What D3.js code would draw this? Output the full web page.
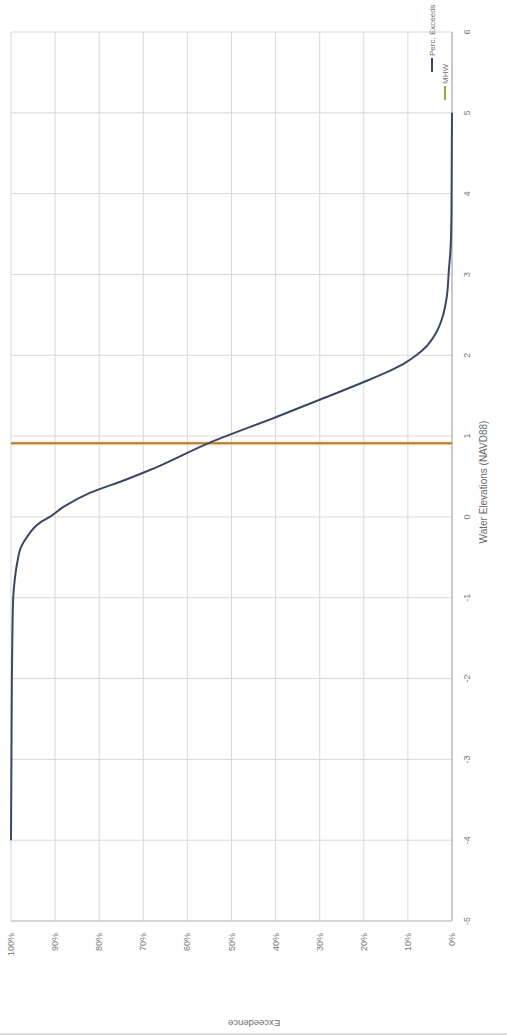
<!DOCTYPE html>
<html>
<head>
<meta charset="utf-8">
<script src="https://cdn.jsdelivr.net/npm/d3@7"></script>
<style>
  body { margin: 0; background: #fff; }
  svg { display: block; }
</style>
</head>
<body>
<div id="chart"></div>
<script>
// exceedance curve
const elevation = [-4, -3, -2, -1.5, -1, -0.8, -0.57, -0.37, -0.25, -0.07, 0, 0.12, 0.3, 0.46, 0.58, 0.92, 1.24, 1.45, 1.66, 1.8, 1.9, 2.0, 2.1, 2.28, 2.48, 2.72, 3.06, 3.3, 3.76, 4.5, 5]
const exceed = [100, 99.9, 99.8, 99.7, 99.5, 99.2, 98.6, 97.7, 96.4, 93.4, 91.2, 88.2, 82, 74, 68.5, 54.9, 39.7, 30, 20.4, 14.4, 10.8, 8.1, 6.0, 3.6, 2.1, 1.2, 0.7, 0.35, 0.12, 0.05, 0]
const mhw = 0.91
const elevTicks = [-5, -4, -3, -2, -1, 0, 1, 2, 3, 4, 5, 6]
const pctTicks = [0, 10, 20, 30, 40, 50, 60, 70, 80, 90, 100]
const seriesNames = ['Perc. Exceeds', 'MHW']

var W = 507, H = 1035
var font = 'Liberation Sans, Arial, sans-serif'

var svg = d3.select('#chart')
  .append('svg')
  .attr('width', W)
  .attr('height', H)

svg.append('rect').attr('width', W).attr('height', H).attr('fill', '#fff')

// the whole chart is drawn normally and then turned a quarter turn
var g = svg.append('g')
  .attr('transform', 'translate(0,' + H + ') rotate(-90)')

var x = d3.scaleLinear().domain([-5, 6]).range([114, 1003])
var y = d3.scaleLinear().domain([0, 100]).range([452, 11])

// grid
g.selectAll('.vgrid')
  .data(elevTicks)
  .enter()
  .append('line')
  .attr('x1', d => x(d)).attr('x2', d => x(d))
  .attr('y1', y(0)).attr('y2', y(100))
  .attr('stroke', '#dcd6d6')
  .attr('stroke-width', 1)

g.selectAll('.hgrid')
  .data(pctTicks)
  .enter()
  .append('line')
  .attr('x1', x(-5)).attr('x2', x(6))
  .attr('y1', d => y(d)).attr('y2', d => y(d))
  .attr('stroke', '#dcd6d6')
  .attr('stroke-width', 1)

// axis lines
g.append('line')
  .attr('x1', x(-5)).attr('x2', x(6))
  .attr('y1', y(0)).attr('y2', y(0))
  .attr('stroke', '#b4b0b0').attr('stroke-width', 1.2)
g.append('line')
  .attr('x1', x(-5)).attr('x2', x(-5))
  .attr('y1', y(0)).attr('y2', y(100))
  .attr('stroke', '#c4c0c0').attr('stroke-width', 1)

// tick labels
g.selectAll('.xlab')
  .data(elevTicks)
  .enter()
  .append('text')
  .attr('x', d => x(d))
  .attr('y', 470)
  .attr('text-anchor', 'middle')
  .style('font-family', font)
  .style('font-size', '9px')
  .style('fill', '#787878')
  .text(d => d)

g.selectAll('.ylab')
  .data(pctTicks)
  .enter()
  .append('text')
  .attr('x', 102)
  .attr('y', d => y(d) + 3)
  .attr('text-anchor', 'end')
  .style('font-family', font)
  .style('font-size', '9px')
  .style('fill', '#787878')
  .text(d => d + '%')

// axis titles
g.append('text')
  .attr('x', 553)
  .attr('y', 487)
  .attr('text-anchor', 'middle')
  .style('font-family', font)
  .style('font-size', '10px')
  .style('fill', '#6a6a6a')
  .text('Water Elevations (NAVD88)')

g.append('text')
  .attr('transform', 'translate(15,254) rotate(-90)')
  .attr('text-anchor', 'middle')
  .style('font-family', font)
  .style('font-size', '9.5px')
  .style('fill', '#6a6a6a')
  .text('Exceedence')

// MHW line
g.append('line')
  .attr('x1', x(mhw)).attr('x2', x(mhw))
  .attr('y1', y(0)).attr('y2', y(100))
  .attr('stroke', '#f3e2b4').attr('stroke-width', 5).attr('opacity', 0.6)
g.append('line')
  .attr('x1', x(mhw)).attr('x2', x(mhw))
  .attr('y1', y(0)).attr('y2', y(100))
  .attr('stroke', '#b3772f').attr('stroke-width', 2)

// exceedance curve
var pts = elevation.map((e, i) => [e, exceed[i]])
var line = d3.line()
  .x(d => x(d[0]))
  .y(d => y(d[1]))
  .curve(d3.curveMonotoneX)

g.append('path')
  .datum(pts)
  .attr('d', line)
  .attr('fill', 'none')
  .attr('stroke', '#3b4766')
  .attr('stroke-width', 2)

// legend
var legendColors = ['#3b4766', '#9aa53a']
var legendRows = [{ y: 432, x0: 963 }, { y: 445, x0: 935 }]
var legend = g.selectAll('.legend')
  .data(seriesNames)
  .enter()
  .append('g')

legend.append('line')
  .attr('x1', (d, i) => legendRows[i].x0)
  .attr('x2', (d, i) => legendRows[i].x0 + 14)
  .attr('y1', (d, i) => legendRows[i].y)
  .attr('y2', (d, i) => legendRows[i].y)
  .attr('stroke', (d, i) => legendColors[i])
  .attr('stroke-width', 2)

legend.append('text')
  .attr('x', (d, i) => legendRows[i].x0 + 16)
  .attr('y', (d, i) => legendRows[i].y + 3)
  .style('font-family', font)
  .style('font-size', '8px')
  .style('fill', '#707070')
  .text(d => d)

// bottom border of the chart box
g.append('line')
  .attr('x1', 1).attr('x2', 1)
  .attr('y1', 0).attr('y2', W)
  .attr('stroke', '#cfcfcf').attr('stroke-width', 1.5)
</script>
</body>
</html>
